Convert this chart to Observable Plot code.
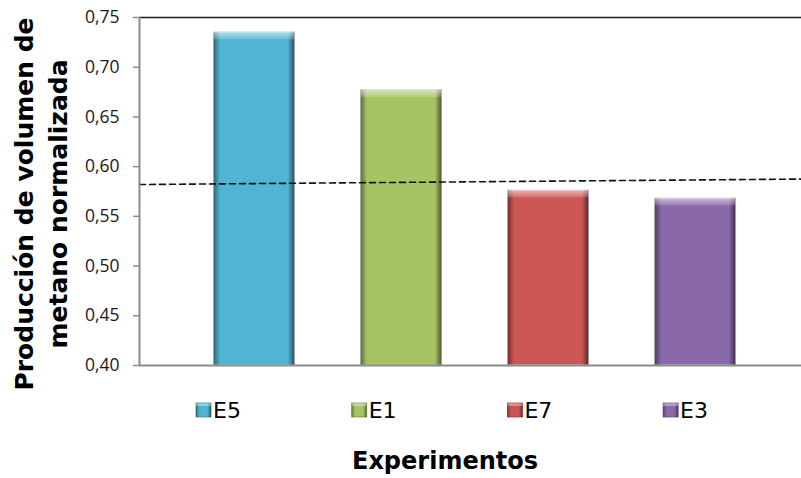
<!DOCTYPE html>
<html>
<head>
<meta charset="utf-8">
<script src="https://cdn.jsdelivr.net/npm/d3@7"></script>
<script src="https://cdn.jsdelivr.net/npm/@observablehq/plot@0.6"></script>
<style>
  html, body { margin: 0; padding: 0; background: #fff; }
  #chart { width: 801px; height: 478px; }
</style>
</head>
<body>
<div id="chart"></div>
<script>
// ---- data ----
const categories = ["E5", "E1", "E7", "E3"];
const values = [0.735, 0.677, 0.576, 0.568];
const colors = ["#50B4D2", "#A7C465", "#CB5653", "#8969A9"];
const yTicks = [0.40, 0.45, 0.50, 0.55, 0.60, 0.65, 0.70, 0.75];
const refLineValues = [0.582, 0.5875]; // dashed line at left and right edge of plot area
const yTitleLines = ["Producción de volumen de", "metano normalizada"];
const xTitle = "Experimentos";

// ---- layout ----
const W = 801, H = 478;
const xMin = -0.782, xMax = 3.721;
const yMin = 0.40, yMax = 0.75;
const hw = 0.2755;  // half bar width (category units)
const bev = 0.045;  // bevel width
const bars = categories.map((c, i) => ({cat: c, i, v: values[i]}));
const refLine = [{x: xMin, y: refLineValues[0]}, {x: xMax, y: refLineValues[1]}];

const chart = Plot.plot({
  width: W,
  height: H,
  marginLeft: 139,
  marginRight: 0,
  marginTop: 17,
  marginBottom: 113,
  style: {fontFamily: "'Open Sans', sans-serif", fontSize: "17.5px", color: "#1a1a1a", background: "#fff"},
  x: {type: "linear", domain: [xMin, xMax], axis: null},
  y: {domain: [yMin, yMax], ticks: yTicks, tickSize: 6, tickPadding: 14,
      tickFormat: d => d.toFixed(2).replace(".", ","), label: null},
  color: {domain: categories, range: colors},
  marks: [
    Plot.rect(bars, {x1: d => d.i - hw, x2: d => d.i + hw, y1: d => yMin, y2: "v",
      fill: "cat", stroke: "#d9d9d9", strokeWidth: 1}),
    Plot.rect(bars, {x1: d => d.i - hw, x2: d => d.i - hw + bev, y1: d => yMin, y2: "v", fill: "url(#gL)"}),
    Plot.rect(bars, {x1: d => d.i + hw - bev, x2: d => d.i + hw, y1: d => yMin, y2: "v", fill: "url(#gR)"}),
    Plot.rect(bars, {x1: d => d.i - hw, x2: d => d.i + hw, y1: d => d.v - 0.0075, y2: "v", fill: "url(#gT)"}),
    Plot.line(refLine, {x: "x", y: "y", stroke: "#111", strokeWidth: 1.6, strokeDasharray: "6,4"}),
    Plot.ruleY([yMax], {stroke: "#1c1c1c", strokeWidth: 1.5}),
    Plot.ruleY([yMin], {stroke: "#8c8c8c", strokeWidth: 2}),
    Plot.ruleX([xMin], {stroke: "#8c8c8c", strokeWidth: 2})
  ]
});

const svg = d3.select(chart);
// tick lines grey
svg.selectAll("[aria-label^='y-axis'] line, [aria-label='y-axis tick'] path").attr("stroke", "#8c8c8c").attr("stroke-width", 1.5);

// gradient defs for bevel look
const defs = svg.insert("defs", ":first-child");
function lg(id, x2, y2, stops) {
  const g = defs.append("linearGradient").attr("id", id).attr("x1", 0).attr("y1", 0).attr("x2", x2).attr("y2", y2);
  stops.forEach(([o, c, a]) => g.append("stop").attr("offset", o).attr("stop-color", c).attr("stop-opacity", a));
}
lg("gL", 1, 0, [[0, "#000", 0.45], [1, "#000", 0]]);
lg("gR", 1, 0, [[0, "#000", 0], [1, "#000", 0.55]]);
lg("gT", 0, 1, [[0, "#fff", 0.55], [1, "#fff", 0.15]]);
lg("gBox", 1, 0, [[0, "#000", 0.35], [0.25, "#000", 0], [0.75, "#000", 0], [1, "#000", 0.45]]);

// y title
yTitleLines.forEach((t, k) => {
  svg.append("text")
    .attr("transform", `translate(${33 + k * 34},204) rotate(-90)`)
    .attr("text-anchor", "middle")
    .style("font-family", "'DejaVu Sans', sans-serif")
    .style("font-weight", "bold")
    .style("font-size", "25px")
    .attr("fill", "#000")
    .text(t);
});

// legend
const lg0 = 196, lstep = 155.7;
categories.forEach((c, i) => {
  const x = lg0 + i * lstep;
  svg.append("rect").attr("x", x).attr("y", 403).attr("width", 15).attr("height", 14)
    .attr("fill", colors[i]).attr("stroke", d3.color(colors[i]).darker(0.8)).attr("stroke-width", 0.8);
  svg.append("rect").attr("x", x).attr("y", 403).attr("width", 15).attr("height", 14).attr("fill", "url(#gBox)");
  svg.append("rect").attr("x", x).attr("y", 403).attr("width", 15).attr("height", 3).attr("fill", "#fff").attr("fill-opacity", 0.35);
  svg.append("text").attr("x", x + 17).attr("y", 418).attr("text-anchor", "start")
    .style("font-family", "'DejaVu Sans', sans-serif").style("font-size", "22px")
    .attr("fill", "#000").text(c);
});

// x title
svg.append("text").attr("x", 445).attr("y", 469).attr("text-anchor", "middle")
  .style("font-family", "'DejaVu Sans', sans-serif").style("font-weight", "bold").style("font-size", "24px")
  .attr("fill", "#000").text(xTitle);

document.getElementById("chart").appendChild(chart);
</script>
</body>
</html>
